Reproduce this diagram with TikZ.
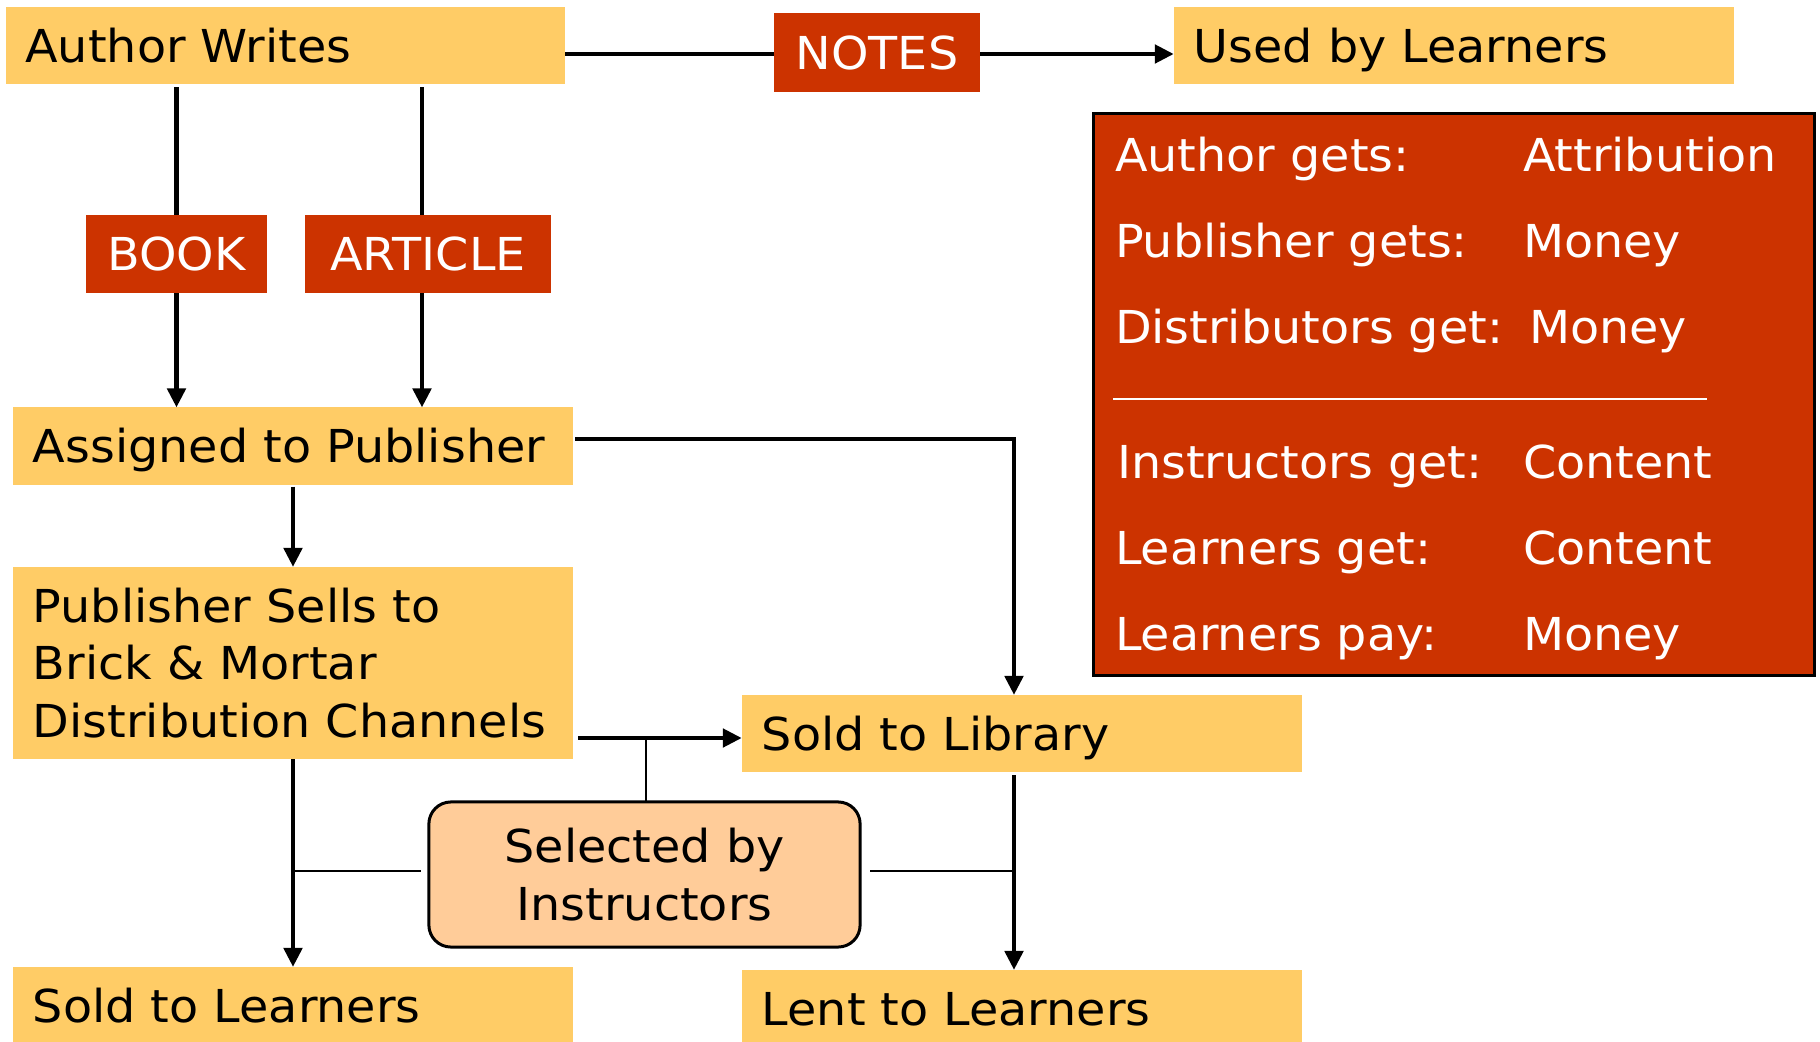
\documentclass[tikz,border=0pt]{standalone}
\usepackage{fontspec}
\setmainfont{DejaVu Sans}[FakeStretch=1.05]
\usetikzlibrary{arrows.meta,calc}
\definecolor{boxyellow}{RGB}{255,204,102}
\definecolor{notered}{RGB}{204,51,0}
\definecolor{peach}{RGB}{255,204,153}

\begin{document}
\begin{tikzpicture}[x=0.01cm,y=-0.01cm,
  every node/.style={inner sep=0pt, outer sep=0pt, font=\fontsize{12.9}{16.3}\selectfont},
  stage/.style={fill=boxyellow, text height=3.3mm, text depth=0pt,
    minimum height=7.7mm, minimum width=5.6cm, text width=5.2cm, align=left},
  stagetall/.style={fill=boxyellow, minimum height=19.2mm, minimum width=5.6cm,
    text width=5.2cm, align=left},
  tag/.style={fill=notered, text=white, text height=3.3mm, text depth=0pt,
    minimum height=7.8mm},
  choice/.style={fill=peach, draw=black, line width=0.3mm, rounded corners=2.2mm,
    minimum width=4.31cm, minimum height=1.45cm, align=center},
  ledger/.style={fill=notered, draw=black, line width=0.3mm,
    minimum width=7.2cm, minimum height=5.61cm},
  entry/.style={text=white, anchor=base west},
  flow/.style={line width=0.47mm},
  arrowflow/.style={flow, -{Triangle[length=1.9mm,width=1.8mm]}},
  tie/.style={line width=0.27mm}]

\useasboundingbox (0,0) rectangle (1820,1042);

% stages of the flow
\node[stage, minimum width=5.59cm] (write) at (285.5,45.5) {Author Writes};
\node[stage] (used) at (1454,45.5) {Used by Learners};
\node[tag, minimum width=2.06cm] (notes) at (877,52.5) {NOTES};
\node[tag, minimum width=1.81cm] (book) at (176.5,254) {BOOK};
\node[tag, minimum width=2.46cm] (article) at (428,254) {ARTICLE};
\node[stage] (assign) at (293,446) {Assigned to Publisher};
\node[stagetall] (sells) at (293,663) {Publisher Sells to\\Brick \& Mortar\\Distribution Channels};
\node[stage] (library) at (1022,733.5) {Sold to Library};
\node[stage] (soldL) at (293,1005.5) {Sold to Learners};
\node[stage] (lent) at (1022,1008.5) {Lent to Learners};
\node[choice] (select) at (644.5,874.5) {Selected by\\Instructors};

% who gets what
\node[ledger] (ledger) at (1454,394.5) {};
\node[entry] (who1) at (1115,171.6) {Author gets:};
\node[entry] (what1) at (1523,171.6) {Attribution};
\node[entry] (who2) at (1115,257) {Publisher gets:};
\node[entry] (what2) at (1523,257) {Money};
\node[entry] (who3) at (1115,343) {Distributors get:};
\node[entry] (what3) at (1529,343) {Money};
\draw[white, line width=0.2mm] (1113,399) -- (1707,399);
\node[entry] (who4) at (1117,478.5) {Instructors get:};
\node[entry] (what4) at (1523,478.5) {Content};
\node[entry] (who5) at (1115,564) {Learners get:};
\node[entry] (what5) at (1523,564) {Content};
\node[entry] (who6) at (1115,650.6) {Learners pay:};
\node[entry] (what6) at (1523,650.6) {Money};

% columns and junctions of the connectors
\coordinate (colB) at (422,0);
\coordinate (colR) at (1014,0);
\coordinate (fork) at (646,738);
\coordinate (notesrow) at (0,54);
\coordinate (tierow) at (0,871);

% connectors
\draw[flow] (write.east |- notesrow) -- (notes.west |- notesrow);
\draw[arrowflow] (notes.east |- notesrow) -- (used.west |- notesrow);
\draw[flow, shorten <=0.3mm] (write.south -| book.center) -- (book.north);
\draw[arrowflow] (book.south) -- (assign.north -| book.center);
\draw[flow, shorten <=0.3mm] (write.south -| colB) -- (article.north -| colB);
\draw[arrowflow] (article.south -| colB) -- (assign.north -| colB);
\draw[arrowflow, shorten <=0.2mm] (assign.south) -- (sells.north);
\draw[arrowflow, shorten <=0.2mm] ([yshift=0.7mm]assign.east) -| (library.north -| colR);
\draw[arrowflow, shorten <=0.5mm] (sells.east |- fork) -- (library.west |- fork);
\draw[arrowflow] (sells.south) -- (soldL.north);
\draw[arrowflow, shorten <=0.3mm] (library.south -| colR) -- (lent.north -| colR);
\draw[tie] (fork) -- (select.north -| fork);
\draw[tie, shorten <=0.8mm] (select.west |- tierow) -- (sells.south |- tierow);
\draw[tie, shorten <=1mm] (select.east |- tierow) -- (colR |- tierow);

\end{tikzpicture}
\end{document}
